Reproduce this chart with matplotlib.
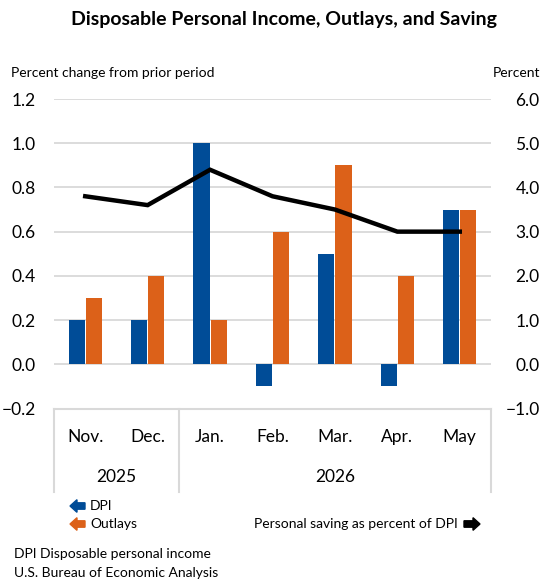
import matplotlib
matplotlib.use('Agg')
import matplotlib.pyplot as plt
from matplotlib.ticker import FuncFormatter
from matplotlib.patches import Polygon
import matplotlib.transforms as mtransforms
import numpy as np

plt.rcParams['font.family'] = ['Lato', 'DejaVu Sans']

months = ['Nov.', 'Dec.', 'Jan.', 'Feb.', 'Mar.', 'Apr.', 'May']
years = ['2025', '2026']
dpi_change = [0.2, 0.2, 1.0, -0.1, 0.5, -0.1, 0.7]
outlays_change = [0.3, 0.4, 0.2, 0.6, 0.9, 0.4, 0.7]
saving_rate = [3.8, 3.6, 4.4, 3.8, 3.5, 3.0, 3.0]

blue = '#004C97'
orange = '#DC6119'
grid_gray = '#D9D9D9'

W, H = 556, 586
fig = plt.figure(figsize=(W / 100, H / 100), dpi=100)

def fx(px):
    return px / W

def fy(py):
    return 1 - py / H

def arrow(x0, x1, yc, color, left=True):
    # block arrow in pixel coords (y measured from top)
    shaft, head, hl = 3.2, 6.3, 7.0
    if left:
        pts = [(x0, yc), (x0 + hl, yc - head), (x0 + hl, yc - shaft), (x1, yc - shaft),
               (x1, yc + shaft), (x0 + hl, yc + shaft), (x0 + hl, yc + head)]
    else:
        pts = [(x1, yc), (x1 - hl, yc - head), (x1 - hl, yc - shaft), (x0, yc - shaft),
               (x0, yc + shaft), (x1 - hl, yc + shaft), (x1 - hl, yc + head)]
    pts = [(fx(px), fy(py)) for px, py in pts]
    fig.add_artist(Polygon(pts, closed=True, color=color, transform=fig.transFigure))

# plot area in pixels: x 54..491, y 99..408.5
ax = fig.add_axes([fx(54), fy(408.5), fx(491) - fx(54), fy(99) - fy(408.5)])
ax2 = ax.twinx()

x = np.arange(len(months))
w = 0.26
off = 0.137
ax.bar(x - off, dpi_change, w, color=blue, zorder=3)
ax.bar(x + off, outlays_change, w, color=orange, zorder=3)

ax.set_xlim(-0.5, len(months) - 0.5)
ax.set_ylim(-0.2, 1.2)
ax.set_yticks(np.arange(-0.2, 1.21, 0.2))
for v in np.arange(0.0, 1.21, 0.2):
    ax.axhline(v, color=grid_gray, lw=1.3, zorder=1)

ax2.plot(x, saving_rate, color='black', lw=3.2, solid_joinstyle='miter', zorder=4)
ax2.set_ylim(-1.0, 6.0)
ax2.set_yticks(np.arange(-1.0, 6.01, 1.0))

fmt = FuncFormatter(lambda v, p: f'{v:.1f}'.replace('-', '\u2212'))
ax.yaxis.set_major_formatter(fmt)
ax2.yaxis.set_major_formatter(fmt)

ax.set_xticks([])
ax.tick_params(axis='y', length=0, labelsize=12.5, pad=13)
ax2.tick_params(axis='y', length=0, labelsize=12.5, pad=35)
for lbl in ax2.get_yticklabels():
    lbl.set_horizontalalignment('right')

for a in (ax, ax2):
    for s in a.spines.values():
        s.set_visible(False)
ax2.patch.set_visible(False)

# category box below the plot
trans = mtransforms.blended_transform_factory(ax.transData, ax.transAxes)
box_bottom = -(492 - 408.5) / (408.5 - 99)
ax.plot([-0.5, 6.5], [0, 0], color=grid_gray, lw=1.5, transform=trans, clip_on=False)
for xv in [-0.5, 1.5, 6.5]:
    ax.plot([xv, xv], [0, box_bottom], color=grid_gray, lw=1.5, transform=trans, clip_on=False)

month_y = -(437 - 408.5) / (408.5 - 99)
year_y = -(477 - 408.5) / (408.5 - 99)
for i, m in enumerate(months):
    ax.text(i, month_y, m, transform=trans, ha='center', va='center', fontsize=12.5)
ax.text(0.5, year_y, years[0], transform=trans, ha='center', va='center', fontsize=12.5)
ax.text(4.0, year_y, years[1], transform=trans, ha='center', va='center', fontsize=12.5)

# titles and axis labels
fig.text(fx(284), fy(20), 'Disposable Personal Income, Outlays, and Saving',
         ha='center', va='center', fontsize=14, fontweight='bold')
fig.text(fx(11), fy(73), 'Percent change from prior period', ha='left', va='center', fontsize=10)
fig.text(fx(540), fy(73), 'Percent', ha='right', va='center', fontsize=10)

# legend
arrow(70, 85, 506, blue, left=True)
fig.text(fx(90), fy(506), 'DPI', ha='left', va='center', fontsize=10)
arrow(70, 85, 524, orange, left=True)
fig.text(fx(90), fy(524), 'Outlays', ha='left', va='center', fontsize=10)
fig.text(fx(458), fy(524), 'Personal saving as percent of DPI', ha='right', va='center', fontsize=10)
arrow(464, 480, 524, 'black', left=False)

# footer
fig.text(fx(14), fy(554), 'DPI Disposable personal income', ha='left', va='center', fontsize=10)
fig.text(fx(14), fy(573), 'U.S. Bureau of Economic Analysis', ha='left', va='center', fontsize=10)

fig.savefig('out.png', dpi=100)
